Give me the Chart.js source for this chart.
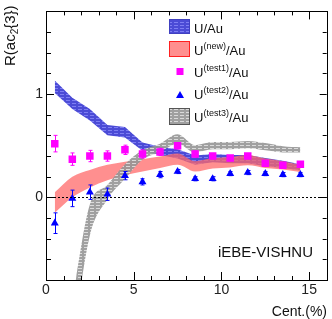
<!DOCTYPE html>
<html>
<head>
<meta charset="utf-8">
<script src="https://cdn.jsdelivr.net/npm/chart.js@4.4.0/dist/chart.umd.min.js"></script>
<style>
body { margin: 0; background: #fff; }
#wrap { position: relative; width: 332px; height: 319px; font-family: "Liberation Sans", Arial, sans-serif; color: #111; }
#c { position: absolute; left: 0; top: 0; }
.t { position: absolute; white-space: nowrap; line-height: 1; }
.leg { left: 194px; font-size: 13px; }
.leg sup { font-size: 9px; vertical-align: baseline; position: relative; top: -6px; }
#ytitle { left: 2px; top: 66px; font-size: 15px; transform-origin: 0 0; transform: rotate(-90deg); }
#ytitle sub { font-size: 10px; vertical-align: baseline; position: relative; top: 3px; }
</style>
</head>
<body>
<div id="wrap">
  <canvas id="c" width="332" height="319"></canvas>
  <div class="t" id="ytitle">R(ac<sub>2</sub>{3})</div>
  <div class="t" style="right:5px; top:304px; font-size:14px;">Cent.(%)</div>
  <div class="t" style="right:19px; top:244px; font-size:15px;">iEBE-VISHNU</div>
  <div class="t leg" style="top:22px">U/Au</div>
  <div class="t leg" style="top:44px">U<sup>(new)</sup>/Au</div>
  <div class="t leg" style="top:66px">U<sup>(test1)</sup>/Au</div>
  <div class="t leg" style="top:88px">U<sup>(test2)</sup>/Au</div>
  <div class="t leg" style="top:111px">U<sup>(test3)</sup>/Au</div>
</div>
<script>
// centralidad (%)
const cent = [0.5, 1.5, 2.5, 3.5, 4.5, 5.5, 6.5, 7.5, 8.5, 9.5, 10.5, 11.5, 12.5, 13.5, 14.5];
const cent3 = [1.5, 2.5, 3.5, 4.5, 5.5, 6.5, 7.5, 8.5, 9.5, 10.5, 11.5, 12.5, 13.5, 14.5];

// U/Au banda
const uauLow  = [1.01, 0.855, 0.745, 0.60, 0.58, 0.45, 0.41, 0.375, 0.315, 0.34, 0.33, 0.33, 0.30, 0.285, 0.26];
const uauHigh = [1.13, 0.965, 0.855, 0.70, 0.68, 0.53, 0.49, 0.465, 0.405, 0.42, 0.41, 0.41, 0.38, 0.355, 0.32];

// U(new)/Au banda
const unewLow  = [-0.15, 0.00, 0.095, 0.165, 0.215, 0.25, 0.285, 0.315, 0.25, 0.28, 0.29, 0.31, 0.285, 0.27, 0.245];
const unewHigh = [0.05, 0.20, 0.265, 0.315, 0.345, 0.37, 0.395, 0.425, 0.35, 0.38, 0.39, 0.41, 0.375, 0.35, 0.315];

// U(test1)/Au puntos
const test1    = [0.52, 0.37, 0.40, 0.40, 0.46, 0.42, 0.44, 0.50, 0.42, 0.40, 0.38, 0.40, 0.33, 0.31, 0.32];
const test1Err = [0.08, 0.06, 0.055, 0.05, 0.045, 0.04, 0.035, 0.03, 0.03, 0.025, 0.025, 0.02, 0.02, 0.02, 0.02];

// U(test2)/Au puntos
const test2    = [-0.25, -0.01, 0.05, 0.03, 0.21, 0.15, 0.22, 0.25, 0.18, 0.18, 0.23, 0.24, 0.23, 0.22, 0.22];
const test2Err = [0.10, 0.08, 0.07, 0.06, 0.04, 0.03, 0.03, 0.02, 0.02, 0.02, 0.02, 0.02, 0.02, 0.02, 0.02];

// U(test3)/Au banda
const test3Low  = [-1.4, -0.37, -0.02, 0.18, 0.365, 0.44, 0.52, 0.435, 0.465, 0.465, 0.475, 0.455, 0.435, 0.435];
const test3High = [-1.0, -0.07, 0.12, 0.32, 0.455, 0.52, 0.61, 0.505, 0.535, 0.535, 0.545, 0.525, 0.495, 0.485];

const xTicks = [0, 5, 10, 15];
const yTicks = [0, 1];

function hatch(base, line) {
  const c = document.createElement('canvas');
  c.width = 6; c.height = 3;
  const g = c.getContext('2d');
  g.fillStyle = base; g.fillRect(0, 0, 6, 3);
  g.fillStyle = line; g.fillRect(0, 1, 4, 1);
  return g.createPattern(c, 'repeat');
}
const bluePat = hatch('rgba(60,60,210,0.92)', 'rgba(130,130,245,0.92)');
const grayPat = hatch('rgba(150,150,150,0.9)', 'rgba(225,225,225,0.9)');
const redFill = 'rgba(255,105,105,0.75)';

function pts(xs, ys) { return xs.map((x, i) => ({ x: x, y: ys[i] })); }

function band(xs, hi, lo, fill, order, smooth) {
  const mode = smooth ? 'monotone' : 'default';
  return [
    { data: pts(xs, hi), fill: '+1', backgroundColor: fill, borderWidth: 0, pointRadius: 0, order: order, cubicInterpolationMode: mode },
    { data: pts(xs, lo), fill: false, borderWidth: 0, pointRadius: 0, order: order, cubicInterpolationMode: mode }
  ];
}

const extras = {
  id: 'extras',
  afterDatasetsDraw(chart) {
    const { ctx, scales: { x, y } } = chart;
    ctx.save();
    // linea del cero
    ctx.strokeStyle = '#000'; ctx.lineWidth = 1; ctx.setLineDash([2, 2]);
    const y0 = Math.round(y.getPixelForValue(0)) + 0.5;
    ctx.beginPath(); ctx.moveTo(chart.chartArea.left, y0); ctx.lineTo(chart.chartArea.right, y0); ctx.stroke();
    ctx.setLineDash([]);
    // barras de error
    [[test1, test1Err, '#ff00ff'], [test2, test2Err, '#0000ff']].forEach(([v, e, col]) => {
      ctx.strokeStyle = col;
      v.forEach((val, i) => {
        const px = Math.round(x.getPixelForValue(cent[i])) + 0.5;
        const t = y.getPixelForValue(val + e[i]);
        const b = y.getPixelForValue(val - e[i]);
        ctx.beginPath();
        ctx.moveTo(px, t); ctx.lineTo(px, b);
        ctx.moveTo(px - 2, t); ctx.lineTo(px + 2, t);
        ctx.moveTo(px - 2, b); ctx.lineTo(px + 2, b);
        ctx.stroke();
      });
    });
    ctx.restore();
  },
  afterDraw(chart) {
    const { ctx, chartArea: a, scales: { x, y } } = chart;
    ctx.save();
    ctx.strokeStyle = '#000'; ctx.lineWidth = 1;
    ctx.strokeRect(Math.round(a.left) + 0.5, Math.round(a.top) + 0.5, Math.round(a.right - a.left), Math.round(a.bottom - a.top));
    ctx.beginPath();
    for (let v = 0; v <= 16; v++) {
      const px = Math.round(x.getPixelForValue(v)) + 0.5;
      const len = v % 5 === 0 ? 8 : 4;
      ctx.moveTo(px, a.bottom); ctx.lineTo(px, a.bottom - len);
      ctx.moveTo(px, a.top); ctx.lineTo(px, a.top + len);
    }
    for (let k = -4; k <= 9; k++) {
      const py = Math.round(y.getPixelForValue(k * 0.2)) + 0.5;
      const major = k % 5 === 0;
      ctx.moveTo(a.left, py); ctx.lineTo(a.left + (major ? 8 : 5), py);
      ctx.moveTo(a.right, py); ctx.lineTo(a.right - (major ? 7 : 4), py);
    }
    ctx.stroke();

    // simbolos de la leyenda
    ctx.fillStyle = bluePat; ctx.fillRect(169, 19, 21, 15);
    ctx.strokeStyle = '#4040c0'; ctx.strokeRect(169.5, 19.5, 20, 14);
    ctx.fillStyle = redFill; ctx.fillRect(169, 41, 21, 16);
    ctx.strokeStyle = '#ff2020'; ctx.strokeRect(169.5, 41.5, 20, 15);
    ctx.fillStyle = '#ff00ff'; ctx.fillRect(176.5, 68, 7, 7);
    ctx.fillStyle = '#0000ff';
    ctx.beginPath(); ctx.moveTo(180, 91); ctx.lineTo(184, 98); ctx.lineTo(176, 98); ctx.closePath(); ctx.fill();
    ctx.fillStyle = grayPat; ctx.fillRect(169, 108, 21, 17);
    ctx.strokeStyle = '#555'; ctx.strokeRect(169.5, 108.5, 20, 16);
    ctx.restore();
  }
};

new Chart(document.getElementById('c'), {
  type: 'line',
  data: {
    datasets: [
      { data: pts(cent, test1), showLine: false, pointStyle: 'rect', pointRadius: 5.3, pointBackgroundColor: '#ff00ff', pointBorderWidth: 0, order: 0 },
      { data: pts(cent, test2), showLine: false, pointStyle: 'triangle', pointRadius: 4.6, pointBackgroundColor: '#0000ff', pointBorderWidth: 0, order: 0 },
      ...band(cent3, test3High, test3Low, grayPat, 1, true),
      ...band(cent, unewHigh, unewLow, redFill, 2, true),
      ...band(cent, uauHigh, uauLow, bluePat, 3, false)
    ]
  },
  options: {
    responsive: false,
    animation: false,
    layout: { padding: { left: 0, right: 5, top: 5, bottom: 0 } },
    plugins: { legend: { display: false }, tooltip: { enabled: false } },
    elements: { line: { tension: 0 } },
    scales: {
      x: {
        type: 'linear', min: 0, max: 16,
        grid: { display: false, drawTicks: false },
        border: { display: false },
        afterBuildTicks: s => { s.ticks = xTicks.map(v => ({ value: v })); },
        afterFit: s => { s.height = 39; },
        ticks: { font: { family: 'Liberation Sans', size: 14 }, color: '#222', padding: 2, maxRotation: 0, autoSkip: false }
      },
      y: {
        min: -0.8, max: 1.8,
        grid: { display: false, drawTicks: false },
        border: { display: false },
        afterBuildTicks: s => { s.ticks = yTicks.map(v => ({ value: v })); },
        afterFit: s => { s.width = 46; },
        ticks: { font: { family: 'Liberation Sans', size: 14 }, color: '#222', padding: 3 }
      }
    }
  },
  plugins: [extras]
});
</script>
</body>
</html>
